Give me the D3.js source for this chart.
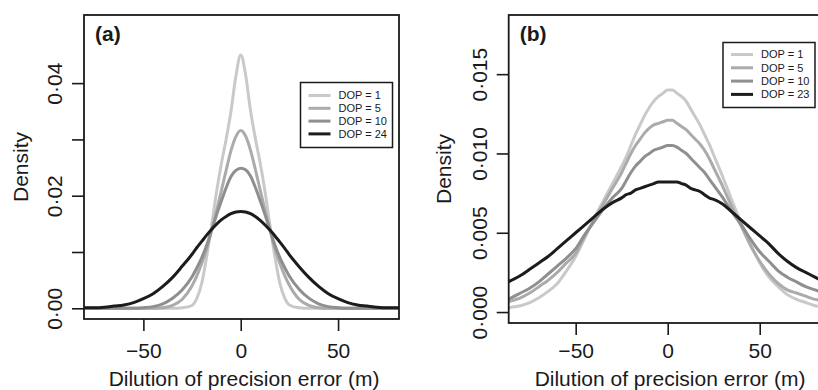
<!DOCTYPE html>
<html>
<head>
<meta charset="utf-8">
<script src="https://cdn.jsdelivr.net/npm/d3@7"></script>
<style>
  body { margin: 0; background: #fff; }
  svg text { font-family: "Liberation Sans", Arial, sans-serif; fill: #1a1a1a; }
</style>
</head>
<body>
<svg id="chart"></svg>
<script>
var width = 818, height = 390;

// error values (m) at which the densities were read
var errorX = [-90, -85, -80, -75, -70, -65, -60, -55, -50, -45, -40, -35, -30,
  -25, -22.5, -20, -17.5, -15, -12.5, -10, -7.5, -5, -2.5, 0,
  2.5, 5, 7.5, 10, 12.5, 15, 17.5, 20, 22.5, 25,
  30, 35, 40, 45, 50, 55, 60, 65, 70, 75, 80, 85, 90];

// panel (a)
var labelsA = ["DOP = 1", "DOP = 5", "DOP = 10", "DOP = 24"];
var densA1 = [0, 0, 0, 0, 0, 0, 0, 0, 0, 0, 0, 0, 0.0001,
  0.0005, 0.0018, 0.0045, 0.0092, 0.0146, 0.0205, 0.0256, 0.0300, 0.0350, 0.0412, 0.0450,
  0.0415, 0.0352, 0.0302, 0.0258, 0.0207, 0.0148, 0.0093, 0.0046, 0.0019, 0.0006,
  0.0001, 0, 0, 0, 0, 0, 0, 0, 0, 0, 0, 0, 0];
var densA2 = [0, 0, 0, 0, 0, 0, 0, 0, 0, 0, 0.0001, 0.0005, 0.0016,
  0.0040, 0.0058, 0.0080, 0.0106, 0.0138, 0.0172, 0.0208, 0.0245, 0.0280, 0.0305, 0.0316,
  0.0306, 0.0281, 0.0247, 0.0210, 0.0174, 0.0140, 0.0107, 0.0081, 0.0059, 0.0041,
  0.0016, 0.0005, 0.0001, 0, 0, 0, 0, 0, 0, 0, 0, 0, 0];
var densA3 = [0, 0, 0, 0, 0, 0, 0, 0, 0.0001, 0.0003, 0.0008, 0.0018, 0.0033,
  0.0056, 0.0072, 0.0090, 0.0112, 0.0138, 0.0165, 0.0190, 0.0214, 0.0234, 0.0245, 0.0249,
  0.0246, 0.0235, 0.0215, 0.0191, 0.0166, 0.0139, 0.0113, 0.0091, 0.0073, 0.0057,
  0.0034, 0.0018, 0.0008, 0.0003, 0.0001, 0, 0, 0, 0, 0, 0, 0, 0];
var densA4 = [0, 0, 0.0001, 0.0001, 0.0002, 0.0004, 0.0006, 0.0010, 0.0017, 0.0026, 0.0039, 0.0055, 0.0075,
  0.0096, 0.0108, 0.0119, 0.0130, 0.0140, 0.0149, 0.0157, 0.0163, 0.0168, 0.0171, 0.0172,
  0.0171, 0.0168, 0.0163, 0.0156, 0.0148, 0.0139, 0.0129, 0.0118, 0.0107, 0.0095,
  0.0074, 0.0055, 0.0039, 0.0026, 0.0017, 0.0010, 0.0006, 0.0004, 0.0002, 0.0001, 0.0001, 0, 0];

// panel (b)
var labelsB = ["DOP = 1", "DOP = 5", "DOP = 10", "DOP = 23"];
var densB1 = [0.0002, 0.0003, 0.0004, 0.0006, 0.0009, 0.0013, 0.0018, 0.0026, 0.0035, 0.0047, 0.0059, 0.0070, 0.0081,
  0.0092, 0.0098, 0.0105, 0.0112, 0.0118, 0.0124, 0.0129, 0.0133, 0.0136, 0.0138, 0.0140,
  0.0140, 0.0138, 0.0136, 0.0133, 0.0128, 0.0123, 0.0118, 0.0112, 0.0106, 0.0099,
  0.0085, 0.0070, 0.0056, 0.0043, 0.0031, 0.0022, 0.0016, 0.0011, 0.0008, 0.0006, 0.0004, 0.0003, 0.0002];
var densB2 = [0.0005, 0.0007, 0.0009, 0.0012, 0.0016, 0.0020, 0.0025, 0.0031, 0.0037, 0.0048, 0.0058, 0.0068, 0.0078,
  0.0088, 0.0094, 0.0100, 0.0105, 0.0109, 0.0113, 0.0116, 0.0118, 0.0119, 0.0120, 0.0121,
  0.0121, 0.0119, 0.0117, 0.0115, 0.0112, 0.0109, 0.0106, 0.0102, 0.0097, 0.0091,
  0.0079, 0.0066, 0.0054, 0.0042, 0.0032, 0.0024, 0.0018, 0.0014, 0.0012, 0.0010, 0.0008, 0.0007, 0.0006];
var densB3 = [0.0007, 0.0009, 0.0012, 0.0015, 0.0019, 0.0024, 0.0029, 0.0034, 0.0040, 0.0049, 0.0057, 0.0065, 0.0072,
  0.0078, 0.0083, 0.0088, 0.0092, 0.0095, 0.0098, 0.0100, 0.0102, 0.0103, 0.0104, 0.0105,
  0.0105, 0.0104, 0.0102, 0.0100, 0.0097, 0.0094, 0.0091, 0.0088, 0.0084, 0.0080,
  0.0072, 0.0063, 0.0055, 0.0046, 0.0038, 0.0032, 0.0026, 0.0022, 0.0019, 0.0016, 0.0014, 0.0012, 0.0010];
var densB4 = [0.0017, 0.0020, 0.0023, 0.0027, 0.0031, 0.0035, 0.0040, 0.0045, 0.0050, 0.0055, 0.0060, 0.0065, 0.0069,
  0.0072, 0.0074, 0.0075, 0.0077, 0.0078, 0.0079, 0.0080, 0.0081, 0.0082, 0.0082, 0.0082,
  0.0082, 0.0082, 0.0081, 0.0080, 0.0078, 0.0077, 0.0076, 0.0074, 0.0072, 0.0071,
  0.0068, 0.0063, 0.0058, 0.0053, 0.0048, 0.0043, 0.0037, 0.0032, 0.0028, 0.0025, 0.0022, 0.0019, 0.0016];

// ticks
var xTicks = [-50, 0, 50];
var yTicksA = [0, 0.01, 0.02, 0.03, 0.04];
var yTicksB = [0, 0.005, 0.010, 0.015];

var greys = ["#c9c9c9", "#ababab", "#8f8f8f", "#1c1c1c"];
var ink = "#1a1a1a";

var svg = d3.select("#chart")
  .attr("width", width)
  .attr("height", height);

function minusFmt(d) {
  return d < 0 ? "\u2212" + Math.abs(d) : String(d);
}

function drawPanel(p) {
  var x = d3.scaleLinear().domain(p.xDomain).range([p.left, p.right]);
  var y = d3.scaleLinear().domain(p.yDomain).range([p.bottom, p.top]);
  var g = svg.append("g");

  g.append("clipPath").attr("id", "clip-" + p.id)
    .append("rect")
    .attr("x", p.left).attr("y", p.top)
    .attr("width", p.right - p.left).attr("height", p.bottom - p.top);

  var line = d3.line()
    .x(function (d, i) { return x(errorX[i]); })
    .y(function (d) { return y(d); })
    .curve(d3.curveMonotoneX);

  g.append("g")
    .attr("clip-path", "url(#clip-" + p.id + ")")
    .selectAll("path")
    .data(p.series)
    .enter()
    .append("path")
    .attr("d", line)
    .attr("fill", "none")
    .attr("stroke", function (d, i) { return greys[i]; })
    .attr("stroke-width", 3)
    .attr("stroke-linejoin", "round");

  // frame
  g.append("rect")
    .attr("x", p.left).attr("y", p.top)
    .attr("width", p.right - p.left).attr("height", p.bottom - p.top)
    .attr("fill", "none")
    .attr("stroke", ink)
    .attr("stroke-width", 1.8);

  // x axis
  var xa = g.append("g")
    .attr("transform", "translate(0," + p.bottom + ")")
    .call(d3.axisBottom(x).tickValues(xTicks).tickSize(12).tickFormat(minusFmt));
  xa.select(".domain").remove();
  xa.selectAll(".tick line").attr("stroke", ink).attr("stroke-width", 1.6);
  xa.selectAll(".tick text")
    .attr("y", p.xLabelY - p.bottom).attr("dy", 0)
    .attr("font-size", 21).attr("fill", ink);

  // y axis with labels parallel to the axis
  var ya = g.append("g")
    .attr("transform", "translate(" + p.left + ",0)")
    .call(d3.axisLeft(y).tickValues(p.yTicks).tickSize(12).tickFormat(p.yFormat));
  ya.select(".domain").remove();
  ya.selectAll(".tick line").attr("stroke", ink).attr("stroke-width", 1.6);
  ya.selectAll(".tick text")
    .attr("x", 0).attr("y", 0).attr("dy", 0)
    .attr("text-anchor", "middle")
    .attr("transform", "translate(" + (p.yLabelX - p.left) + ",0) rotate(-90)")
    .attr("font-size", 21).attr("fill", ink);

  // axis titles
  g.append("text")
    .attr("x", p.titleX).attr("y", 386)
    .attr("text-anchor", "middle")
    .attr("font-size", 21)
    .text("Dilution of precision error (m)");
  g.append("text")
    .attr("transform", "translate(" + p.densityX + "," + ((p.top + p.bottom) / 2) + ") rotate(-90)")
    .attr("text-anchor", "middle")
    .attr("font-size", 21)
    .text("Density");

  // panel letter
  g.append("text")
    .attr("x", p.left + 11).attr("y", 41)
    .attr("font-size", 21)
    .attr("font-weight", "bold")
    .text(p.letter);

  // legend
  var lg = g.append("g").attr("transform", "translate(" + p.legX + "," + p.legY + ")");
  lg.append("rect")
    .attr("width", p.legW).attr("height", p.legH)
    .attr("fill", "#fff")
    .attr("stroke", ink)
    .attr("stroke-width", 1.5);
  var rows = lg.selectAll("g.row")
    .data(p.labels)
    .enter()
    .append("g")
    .attr("class", "row")
    .attr("transform", function (d, i) { return "translate(0," + (p.legRow0 + i * p.legStep) + ")"; });
  rows.append("line")
    .attr("x1", 8).attr("x2", 30)
    .attr("stroke", function (d, i) { return greys[i]; })
    .attr("stroke-width", 3);
  rows.append("text")
    .attr("x", 38).attr("dy", "0.36em")
    .attr("font-size", 11)
    .text(function (d) { return d; });
}

drawPanel({
  id: "a", letter: "(a)",
  left: 84, right: 399, top: 15, bottom: 319,
  xDomain: [-80.5, 81.3], yDomain: [-0.0019, 0.0521],
  yTicks: yTicksA,
  yFormat: function (d) { return Math.round(d * 100) % 2 ? "" : d.toFixed(2).replace(".", "\u00b7"); },
  xLabelY: 357.5, yLabelX: 62, densityX: 28, titleX: 244,
  series: [densA1, densA2, densA3, densA4], labels: labelsA,
  legX: 300.5, legY: 82.5, legW: 92, legH: 65, legRow0: 13, legStep: 12.8
});

drawPanel({
  id: "b", letter: "(b)",
  left: 508.7, right: 826.7, top: 15, bottom: 323,
  xDomain: [-86.4, 86.4], yDomain: [-0.00069, 0.01873],
  yTicks: yTicksB,
  yFormat: function (d) { return d.toFixed(3).replace(".", "\u00b7"); },
  xLabelY: 357.5, yLabelX: 487, densityX: 451, titleX: 670,
  series: [densB1, densB2, densB3, densB4], labels: labelsB,
  legX: 723, legY: 42.5, legW: 92, legH: 65, legRow0: 12, legStep: 13.3
});
</script>
</body>
</html>
